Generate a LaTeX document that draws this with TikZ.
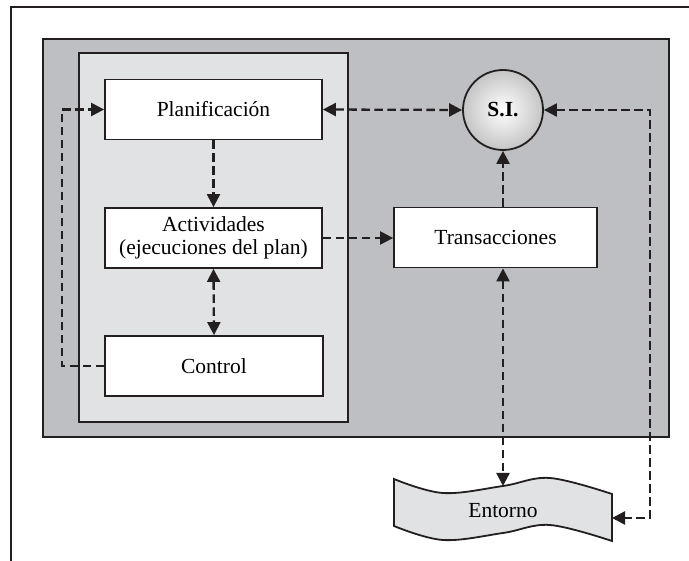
\documentclass[tikz,border=0pt]{standalone}
\usepackage{fontspec}
\setmainfont{Liberation Serif}
\usetikzlibrary{arrows.meta,calc}
\definecolor{panel}{HTML}{BEBFC2}
\definecolor{pale}{HTML}{E1E2E4}
\definecolor{ink}{HTML}{231F20}
\tikzset{
  >={Triangle[length=13pt,width=13pt]},
  txt/.style={font=\fontsize{21.5}{23}\selectfont},
  stepbox/.style={txt, draw=ink, line width=1.8pt, fill=white, inner sep=0pt,
                  align=center, minimum height=60pt},
  flow/.style={draw=ink, line width=2.3pt, dash pattern=on 8.5pt off 4.5pt},
  frame/.style={draw=ink, line width=1.8pt},
}
\begin{document}
\begin{tikzpicture}[x=1pt,y=-1pt]
  \useasboundingbox (0,0) rectangle (689,561);

  % open outer frame (top and left edges)
  \draw[ink, line width=2.2pt] (11,561) -- (11,7) -- (689,7);

  % organisation panel and the management sub-panel
  \filldraw[frame, fill=panel] (43,39) rectangle (669,437);
  \filldraw[frame, fill=pale] (79,53) rectangle (348,422);

  % process boxes
  \node[stepbox, minimum width=217pt] (plan) at (213.5,109.5) {Planificación};
  \node[stepbox, minimum width=217pt] (act)  at (213.5,238)   {Actividades\\(ejecuciones del plan)};
  \node[stepbox, minimum width=218pt] (ctrl) at (214,366)     {Control};
  \node[stepbox, minimum width=203pt] (trans) at (495.5,237.5) {Transacciones};

  % information system
  \node[circle, draw=ink, line width=1.8pt, minimum size=80pt, inner sep=0pt,
        inner color=white, outer color=black!23, font=\fontsize{21.5}{23}\selectfont\bfseries]
        (si) at (503,110) {S.I.};

  % environment banner
  \filldraw[draw=ink, line width=1.8pt, fill=pale]
    plot[smooth, tension=0.6] coordinates {(394,479) (443,493) (503,486) (550,478) (612,494)}
    -- plot[smooth, tension=0.6] coordinates {(612,541) (550,525) (503,533) (443,540) (394,526)}
    -- cycle;
  \node[txt] (entorno) at (503,511) {Entorno};
  \coordinate (etop) at (503,486);
  \coordinate (eright) at (612,518);

  % routing columns for the feedback loops
  \coordinate (loopL) at (62,0);
  \coordinate (loopR) at (650,0);

  % connectors
  \draw[flow, <->] (plan.east) -- (si.west);
  \draw[flow, ->] (plan.south) -- (act.north);
  \draw[flow, <->] (act.south) -- (ctrl.north);
  \draw[flow, ->] (act.east) -- (act.east -| trans.west);
  \draw[flow, ->] (si.south |- trans.north) -- (si.south);
  \draw[flow, <->] (si.south |- trans.south) -- (etop);
  \draw[flow, ->] (ctrl.west) -- (ctrl.west -| loopL) -- (plan.west -| loopL) -- (plan.west);
  \draw[flow, <->] (si.east) -- (si.east -| loopR) -- (eright -| loopR) -- (eright);
\end{tikzpicture}
\end{document}
